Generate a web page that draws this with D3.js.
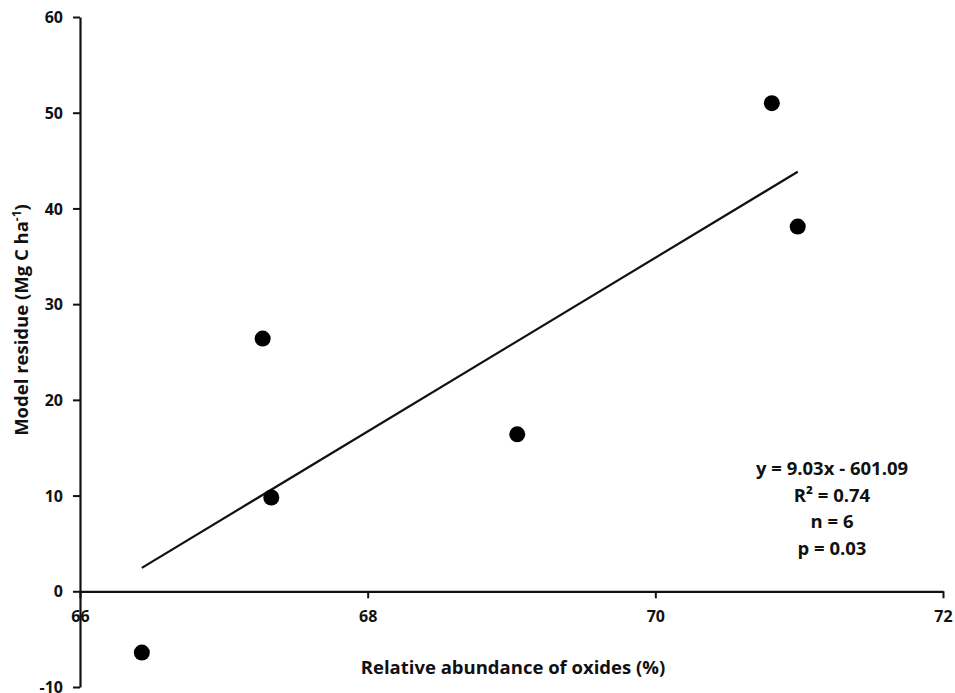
<!DOCTYPE html>
<html><head><meta charset="utf-8">
<script src="https://cdn.jsdelivr.net/npm/d3@7"></script>
<style>body{margin:0;background:#fff}svg{display:block}text{font-family:"Open Sans",sans-serif;font-weight:bold;fill:#111}</style>
</head><body><svg id="c" width="955" height="693"></svg>
<script>
const oxides = [66.43, 67.27, 67.33, 69.04, 70.81, 70.99];
const residue = [-6.4, 26.4, 9.8, 16.4, 51.0, 38.1];
const xTicks = [66, 68, 70, 72];
const yTicks = [-10, 0, 10, 20, 30, 40, 50, 60];
const statsLines = ["y = 9.03x - 601.09", "R² = 0.74", "n = 6", "p = 0.03"];

const svg = d3.select("#c");
const x = d3.scaleLinear().domain([66, 72]).range([80, 943]);
const y = d3.scaleLinear().domain([-10, 60]).range([687, 17]);
const fmt = d => String(d);

// y axis
const ya = svg.append("g").attr("transform", `translate(${x(66)},0)`)
  .call(d3.axisLeft(y).tickValues(yTicks).tickFormat(fmt).tickSize(7).tickSizeOuter(0).tickPadding(10));
ya.select(".domain").attr("stroke", "#111").attr("stroke-width", 2.2);
ya.selectAll(".tick line").attr("stroke", "#111").attr("stroke-width", 2);
ya.selectAll(".tick text").style("font-size", "16px").attr("dy", "0.35em");

// x axis at y=0
const xa = svg.append("g").attr("transform", `translate(0,${y(0)})`)
  .call(d3.axisBottom(x).tickValues(xTicks).tickFormat(fmt).tickSize(7).tickSizeOuter(0).tickPadding(12));
xa.select(".domain").attr("stroke", "#111").attr("stroke-width", 2.2);
xa.selectAll(".tick line").attr("stroke", "#111").attr("stroke-width", 2);
xa.selectAll(".tick text").style("font-size", "16px");

// regression line from data
const n = oxides.length;
const mx = d3.mean(oxides), my = d3.mean(residue);
let sxy = 0, sxx = 0;
for (let i = 0; i < n; i++) { sxy += (oxides[i]-mx)*(residue[i]-my); sxx += (oxides[i]-mx)**2; }
const slope = sxy/sxx, icpt = my - slope*mx;
const x0 = d3.min(oxides), x1 = d3.max(oxides);
svg.append("line")
  .attr("x1", x(x0)).attr("y1", y(slope*x0+icpt))
  .attr("x2", x(x1)).attr("y2", y(slope*x1+icpt))
  .attr("stroke", "#111").attr("stroke-width", 2.2);

// points
svg.append("g").selectAll("circle").data(oxides).join("circle")
  .attr("cx", d => x(d)).attr("cy", (d, i) => y(residue[i])).attr("r", 8).attr("fill", "#000");

// stats text
svg.append("g").selectAll("text").data(statsLines).join("text")
  .attr("x", 832).attr("y", (d, i) => 475 + i*26.5).attr("text-anchor", "middle")
  .style("font-size", "18.5px").text(d => d);

// axis titles
svg.append("text").attr("x", 513).attr("y", 674).attr("text-anchor", "middle")
  .style("font-size", "18.5px").text("Relative abundance of oxides (%)");
const yt = svg.append("text").attr("transform", "translate(28,320) rotate(-90)")
  .attr("text-anchor", "middle").style("font-size", "18.5px");
yt.append("tspan").text("Model residue (Mg C ha");
yt.append("tspan").attr("dy", "-7").style("font-size", "12px").text("-1");
yt.append("tspan").attr("dy", "7").text(")");
</script></body></html>
